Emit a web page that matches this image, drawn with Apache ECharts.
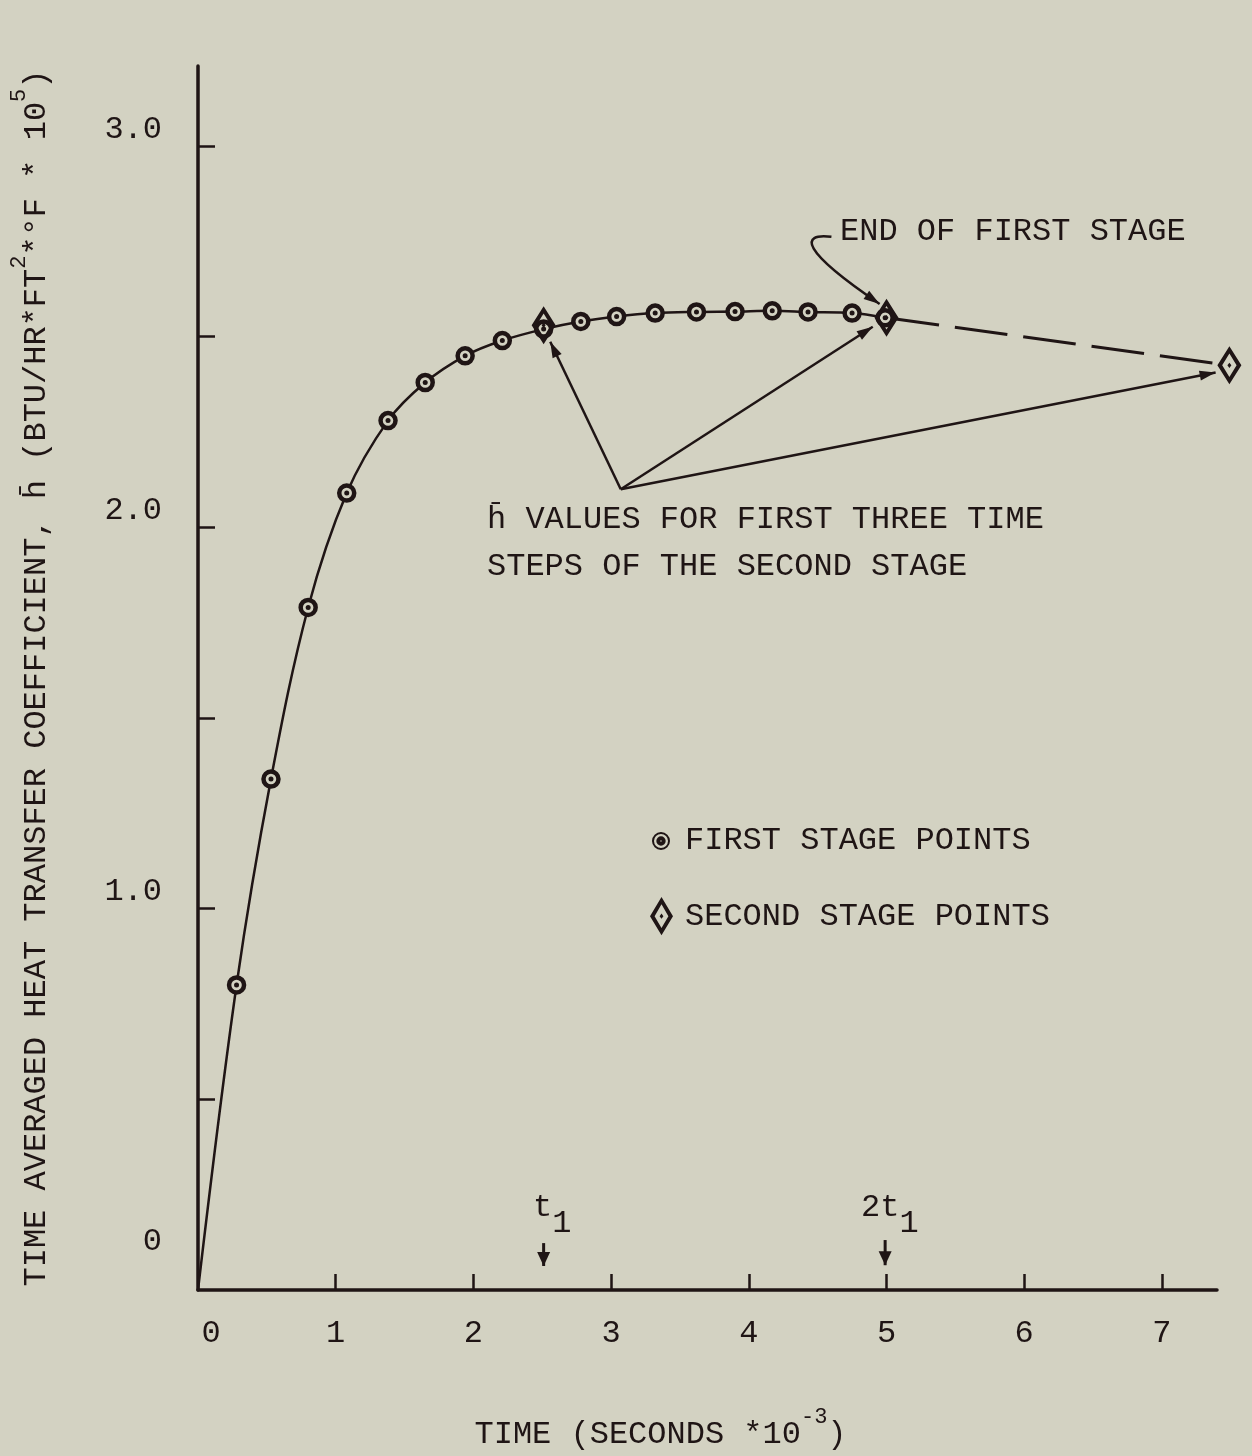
<!DOCTYPE html>
<html>
<head>
<meta charset="utf-8">
<script src="https://cdn.jsdelivr.net/npm/echarts@6/dist/echarts.min.js"></script>
<style>
  html, body { margin: 0; padding: 0; background: #d3d2c2; }
  #chart { width: 1252px; height: 1456px; }
</style>
</head>
<body>
<div id="chart"></div>
<script>
// first stage points (time in s*10^-3, h-bar in BTU/HR*FT2*F*10^5)
var firstTime = [0.28, 0.53, 0.80, 1.08, 1.38, 1.65, 1.94, 2.21, 2.51, 2.78, 3.04, 3.32, 3.62, 3.90, 4.17, 4.43, 4.75, 4.99];
var firstH = [0.80, 1.34, 1.79, 2.09, 2.28, 2.38, 2.45, 2.49, 2.52, 2.54, 2.553, 2.562, 2.565, 2.566, 2.568, 2.565, 2.562, 2.55];
// second stage points
var secondTime = [2.51, 5.00, 7.49];
var secondH = [2.53, 2.55, 2.425];
// axis labels
var xLabels = [0, 1, 2, 3, 4, 5, 6, 7];
var yLabels = [0, 1, 2, 3];
var yTicks = [0.5, 1, 1.5, 2, 2.5, 3];
// annotation arrows [fromX, fromY, toX, toY]
var pointerArrows = [[3.07, 2.10, 2.558, 2.487], [3.07, 2.10, 4.90, 2.526], [3.07, 2.10, 7.39, 2.406]];
var timeArrows = [[2.51, 0.123, 2.51, 0.063], [4.99, 0.131, 4.99, 0.065]];
// hook arrow to end of first stage [x0, y0, c1x, c1y, c2x, c2y, x1, y1]
var hookArrow = [[4.60, 2.762, 4.37, 2.772, 4.37, 2.728, 4.95, 2.586]];

var INK = '#1f1515';
var BG = '#d3d2c2';
var FONT = '"Liberation Mono", "Courier New", monospace';

var ringIcon = 'path://M50,0A50,50 0 1,1 50,100A50,50 0 1,1 50,0Z M50,27A23,23 0 1,0 50,73A23,23 0 1,0 50,27Z M50,39A11,11 0 1,1 50,61A11,11 0 1,1 50,39Z';
var diamondIcon = 'path://M30,0L60,50L30,100L0,50Z M30,19L12,50L30,81L48,50Z M30,43L35,50L30,57L25,50Z';

var firstData = [[0, 0]];
for (var i = 0; i < firstTime.length; i++) firstData.push([firstTime[i], firstH[i]]);
var dotData = firstData.slice(1);
var secondData = secondTime.map(function (t, i) { return [t, secondH[i]]; });

function head(p0, p1, len, half) {
    var dx = p1[0] - p0[0], dy = p1[1] - p0[1];
    var d = Math.sqrt(dx * dx + dy * dy);
    var ux = dx / d, uy = dy / d;
    var bx = p1[0] - ux * len, by = p1[1] - uy * len;
    return [[p1[0], p1[1]], [bx - uy * half, by + ux * half], [bx + uy * half, by - ux * half]];
}

function arrowRenderer(len, half, width) {
    return function (params, api) {
        var p0 = api.coord([api.value(0), api.value(1)]);
        var p1 = api.coord([api.value(2), api.value(3)]);
        return {
            type: 'group',
            children: [
                { type: 'line', shape: { x1: p0[0], y1: p0[1], x2: p1[0], y2: p1[1] }, style: { stroke: INK, lineWidth: width } },
                { type: 'polygon', shape: { points: head(p0, p1, len, half) }, style: { fill: INK } }
            ]
        };
    };
}

var nameRich = {
    n: { fontSize: 32, fontFamily: FONT, color: INK, lineHeight: 45, verticalAlign: 'bottom' },
    s: { fontSize: 22, fontFamily: FONT, color: INK, lineHeight: 45, verticalAlign: 'top' }
};

var myChart = echarts.init(document.getElementById('chart'));
var option = {
    backgroundColor: BG,
    animation: false,
    textStyle: { fontFamily: FONT, color: INK },
    grid: { left: 197, right: 35, top: 66, bottom: 164 },
    legend: [
        {
            data: [{ name: 'FIRST STAGE POINTS', icon: ringIcon }],
            left: 647, top: 820, itemWidth: 16, itemHeight: 16,
            selectedMode: false,
            textStyle: { fontSize: 32, fontFamily: FONT, color: INK, padding: [0, 0, 0, 11] }
        },
        {
            data: [{ name: 'SECOND STAGE POINTS', icon: diamondIcon }],
            left: 645, top: 892, itemWidth: 23, itemHeight: 40,
            selectedMode: false,
            textStyle: { fontSize: 32, fontFamily: FONT, color: INK, padding: [0, 0, 0, 7] }
        }
    ],
    xAxis: {
        type: 'value', min: 0, max: 7.4, interval: 1,
        splitLine: { show: false },
        axisLine: { lineStyle: { color: INK, width: 3.5 } },
        axisTick: { inside: true, length: 16, customValues: [1, 2, 3, 4, 5, 6, 7], lineStyle: { color: INK, width: 2.5 } },
        axisLabel: {
            customValues: xLabels, margin: 28, fontSize: 32, fontFamily: FONT, color: INK,
            formatter: function (v) { return v === 0 ? '{z|0}' : String(v); },
            rich: { z: { fontSize: 32, fontFamily: FONT, color: INK, padding: [0, 0, 0, 26] } }
        },
        name: '{n|TIME (SECONDS *10}{s|-3}{n|)}',
        nameLocation: 'middle', nameGap: 116,
        nameTextStyle: { rich: nameRich, padding: [0, 94, 0, 0] }
    },
    yAxis: {
        type: 'value', min: 0, max: 3.21, interval: 0.5,
        splitLine: { show: false },
        axisLine: { lineStyle: { color: INK, width: 3.5 } },
        axisTick: { inside: true, length: 17, customValues: yTicks, lineStyle: { color: INK, width: 2.5 } },
        axisLabel: {
            customValues: yLabels, margin: 36, fontSize: 32, fontFamily: FONT, color: INK,
            formatter: function (v) { return v === 0 ? '{z|0}' : '{a|' + v.toFixed(1) + '}'; },
            rich: {
                z: { fontSize: 32, fontFamily: FONT, color: INK, padding: [0, 0, 96, 0] },
                a: { fontSize: 32, fontFamily: FONT, color: INK, padding: [0, 0, 34, 0] }
            }
        },
        name: '{n|TIME AVERAGED HEAT TRANSFER COEFFICIENT, h\u0304 (BTU/HR*FT}{s|2}{n|*\u00b0F * 10}{s|5}{n|)}',
        nameLocation: 'middle', nameRotate: 90, nameGap: 145,
        nameTextStyle: { rich: nameRich }
    },
    series: [
        {
            name: 'FIRST STAGE POINTS',
            type: 'line',
            data: firstData,
            smooth: 0.35,
            symbol: 'circle',
            symbolSize: function (v) { return v[0] === 0 ? 0 : 15; },
            lineStyle: { color: INK, width: 2.5 },
            itemStyle: { color: BG, borderColor: INK, borderWidth: 4.5 },
            z: 3
        },
        {
            name: 'dots',
            type: 'scatter',
            data: dotData,
            symbol: 'circle',
            symbolSize: 5,
            itemStyle: { color: INK, opacity: 1 },
            z: 4
        },
        {
            name: 'second stage trend',
            type: 'line',
            data: secondData.slice(1),
            symbol: 'none',
            clip: false,
            lineStyle: { color: INK, width: 3, type: [53, 16] },
            z: 2
        },
        {
            name: 'SECOND STAGE POINTS',
            type: 'scatter',
            data: secondData,
            symbol: diamondIcon,
            symbolSize: [24, 38],
            clip: false,
            itemStyle: { color: INK, opacity: 1 },
            z: 5
        },
        {
            type: 'custom',
            data: pointerArrows,
            encode: { x: [0, 2], y: [1, 3] },
            clip: false,
            renderItem: arrowRenderer(16, 5, 2.5),
            z: 6
        },
        {
            type: 'custom',
            data: timeArrows,
            encode: { x: [0, 2], y: [1, 3] },
            clip: false,
            renderItem: arrowRenderer(14, 6.5, 3),
            z: 6
        },
        {
            type: 'custom',
            data: hookArrow,
            encode: { x: [0, 2, 4, 6], y: [1, 3, 5, 7] },
            clip: false,
            renderItem: function (params, api) {
                var p0 = api.coord([api.value(0), api.value(1)]);
                var c1 = api.coord([api.value(2), api.value(3)]);
                var c2 = api.coord([api.value(4), api.value(5)]);
                var p1 = api.coord([api.value(6), api.value(7)]);
                return {
                    type: 'group',
                    children: [
                        {
                            type: 'bezierCurve',
                            shape: { x1: p0[0], y1: p0[1], cpx1: c1[0], cpy1: c1[1], cpx2: c2[0], cpy2: c2[1], x2: p1[0], y2: p1[1] },
                            style: { stroke: INK, lineWidth: 2.5, fill: null }
                        },
                        { type: 'polygon', shape: { points: head(c2, p1, 16, 5) }, style: { fill: INK } }
                    ]
                };
            },
            z: 6
        }
    ],
    graphic: [
        { type: 'text', x: 840, y: 232, style: { text: 'END OF FIRST STAGE', font: '32px ' + FONT, fill: INK, verticalAlign: 'middle' } },
        { type: 'text', x: 487, y: 520, style: { text: 'h\u0304 VALUES FOR FIRST THREE TIME', font: '32px ' + FONT, fill: INK, verticalAlign: 'middle' } },
        { type: 'text', x: 487, y: 567, style: { text: 'STEPS OF THE SECOND STAGE', font: '32px ' + FONT, fill: INK, verticalAlign: 'middle' } },
        {
            type: 'text', x: 533, y: 1192,
            style: {
                text: '{n|t}{b|1}', verticalAlign: 'top', fill: INK,
                rich: {
                    n: { fontSize: 32, fontFamily: FONT, fill: INK, lineHeight: 48, verticalAlign: 'top' },
                    b: { fontSize: 32, fontFamily: FONT, fill: INK, lineHeight: 48, verticalAlign: 'bottom' }
                }
            }
        },
        {
            type: 'text', x: 861, y: 1192,
            style: {
                text: '{n|2t}{b|1}', verticalAlign: 'top', fill: INK,
                rich: {
                    n: { fontSize: 32, fontFamily: FONT, fill: INK, lineHeight: 48, verticalAlign: 'top' },
                    b: { fontSize: 32, fontFamily: FONT, fill: INK, lineHeight: 48, verticalAlign: 'bottom' }
                }
            }
        }
    ]
};
myChart.setOption(option);
window.addEventListener('resize', function () {
    myChart.resize();
});
</script>
</body>
</html>
